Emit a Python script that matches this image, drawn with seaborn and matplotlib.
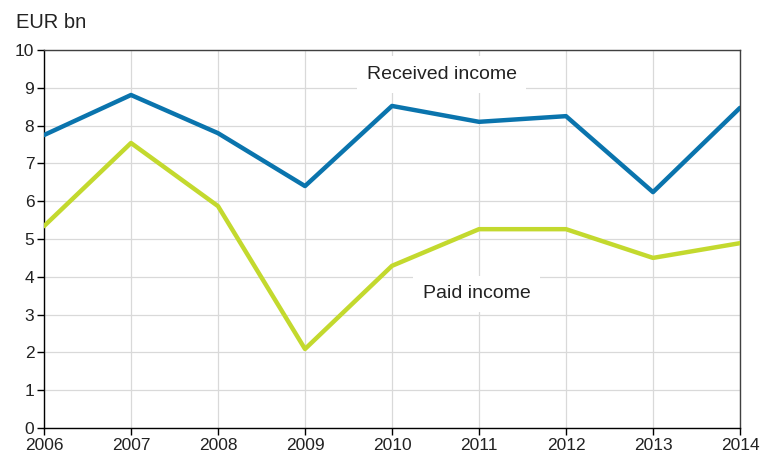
import matplotlib
matplotlib.use("Agg")
import matplotlib.pyplot as plt
import seaborn as sns
import pandas as pd

years = [2006, 2007, 2008, 2009, 2010, 2011, 2012, 2013, 2014]
received = [7.75, 8.81, 7.8, 6.4, 8.52, 8.1, 8.25, 6.24, 8.47]
paid = [5.34, 7.54, 5.87, 2.09, 4.29, 5.26, 5.26, 4.5, 4.89]

sns.set_theme(style="white")
plt.rcParams['font.family'] = ['Liberation Sans', 'DejaVu Sans']

df = pd.DataFrame({
    "year": years * 2,
    "value": received + paid,
    "series": ["Received income"] * len(years) + ["Paid income"] * len(years),
})

fig = plt.figure(figsize=(7.63, 4.59), dpi=100)
ax = fig.add_axes([44/763, 31/459, 696/763, 378/459])

sns.lineplot(data=df, x="year", y="value", hue="series",
             palette={"Received income": "#0a74ad", "Paid income": "#c3d92e"},
             linewidth=3.2, ax=ax, legend=False, zorder=3)

ax.set_xlim(2006, 2014)
ax.set_ylim(0, 10)
ax.set_xticks(years)
ax.set_xticklabels([str(y) for y in years])
ax.set_yticks(range(0, 11))
ax.grid(True, color="#d9d9d9", linewidth=0.9, zorder=0)
ax.set_axisbelow(True)
for s in ax.spines.values():
    s.set_visible(True)
    s.set_linewidth(1.0)
ax.spines["left"].set_color("black")
ax.spines["bottom"].set_color("black")
ax.spines["top"].set_color("#404040")
ax.spines["right"].set_color("#404040")
ax.tick_params(axis="both", which="both", direction="out", length=5, width=1,
               color="black", labelsize=12.5, labelcolor="#222222", pad=2,
               bottom=True, left=True)
ax.set_xlabel("")
ax.set_ylabel("")

ax.text(2010.57, 9.35, "Received income", fontsize=14, ha="center", va="center",
        color="#222222", zorder=4,
        bbox=dict(facecolor="white", edgecolor="none", pad=7))
ax.text(2010.97, 3.55, "Paid income", fontsize=14, ha="center", va="center",
        color="#222222", zorder=4,
        bbox=dict(facecolor="white", edgecolor="none", pad=7))

fig.text(16/763, 1 - 22/459, "EUR bn", fontsize=14.5, ha="left", va="center", color="#222222")

fig.savefig("out.png", dpi=100)
